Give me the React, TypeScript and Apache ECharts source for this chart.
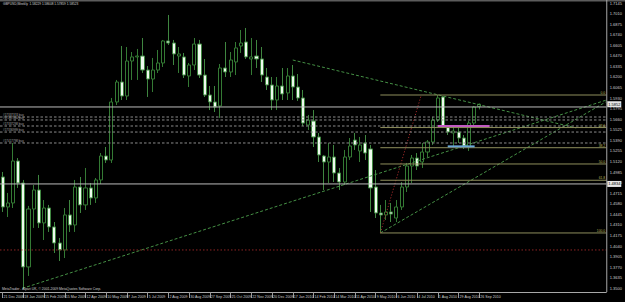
import React, { useEffect, useRef } from "react";
import * as echarts from "echarts";

const titleText = "GBPUSD,Weekly  1.58229 1.58608 1.57859 1.58523";
const copyrightText = "MetaTrader - Alpari UK, \u00a9 2001-2009 MetaQuotes Software Corp.";

const dateLabels = [
  "21 Dec 2008", "18 Jan 2009", "15 Feb 2009", "15 Mar 2009", "12 Apr 2009", "10 May 2009",
  "7 Jun 2009", "5 Jul 2009", "2 Aug 2009", "30 Aug 2009", "27 Sep 2009", "25 Oct 2009",
  "22 Nov 2009", "20 Dec 2009", "17 Jan 2010", "14 Feb 2010", "14 Mar 2010", "11 Apr 2010",
  "9 May 2010", "6 Jun 2010", "4 Jul 2010", "1 Aug 2010", "29 Aug 2010", "26 Sep 2010",
];

const opens = [
  1.4923, 1.4540, 1.4591, 1.5127, 1.4846, 1.3774, 1.4514, 1.4757, 1.4336, 1.4527,
  1.4285, 1.4080, 1.3991, 1.4438, 1.4310, 1.4795, 1.4566, 1.4783, 1.4655, 1.4885,
  1.5191, 1.5140, 1.5881, 1.6136, 1.5957, 1.6404, 1.6456, 1.6468, 1.6289, 1.6174,
  1.6289, 1.6379, 1.6660, 1.6634, 1.6468, 1.6456, 1.6213, 1.6353, 1.6621, 1.6225,
  1.5970, 1.5881, 1.5830, 1.6315, 1.6264, 1.6392, 1.6596, 1.6647, 1.6430, 1.6468,
  1.6430, 1.6200, 1.6098, 1.5906, 1.6085, 1.5996, 1.6213, 1.6072, 1.5932, 1.5587,
  1.5638, 1.5434, 1.5191, 1.5114, 1.5178, 1.4974, 1.4859, 1.5178, 1.5395, 1.5255,
  1.5357, 1.5281, 1.4795, 1.4463, 1.4438, 1.4476, 1.4399, 1.4540, 1.4795, 1.5063,
  1.5165, 1.5114, 1.5242, 1.5370, 1.5651, 1.5945, 1.5561, 1.5485, 1.5497, 1.5421,
  1.5306, 1.5612, 1.5823,
];
const highs = [
  1.4987, 1.4719, 1.5357, 1.5165, 1.4885, 1.4553, 1.4821, 1.4949, 1.4629, 1.4566,
  1.4348, 1.4144, 1.4527, 1.4629, 1.4885, 1.4923, 1.5038, 1.4846, 1.4910, 1.5229,
  1.5306, 1.5932, 1.6162, 1.6596, 1.6583, 1.6519, 1.6558, 1.6698, 1.6340, 1.6443,
  1.6545, 1.6673, 1.6992, 1.6673, 1.6583, 1.6507, 1.6379, 1.6698, 1.6673, 1.6430,
  1.6085, 1.6085, 1.6366, 1.6647, 1.6519, 1.6647, 1.6800, 1.6826, 1.6698, 1.6673,
  1.6583, 1.6315, 1.6200, 1.6200, 1.6315, 1.6315, 1.6353, 1.6238, 1.6034, 1.5715,
  1.5778, 1.5485, 1.5204, 1.5357, 1.5332, 1.5038, 1.5268, 1.5421, 1.5485, 1.5434,
  1.5459, 1.5332, 1.5012, 1.4566, 1.4629, 1.4591, 1.4629, 1.4859, 1.5102, 1.5204,
  1.5229, 1.5357, 1.5395, 1.5689, 1.5970, 1.5957, 1.5587, 1.5574, 1.5549, 1.5459,
  1.5638, 1.5830, 1.5861,
];
const lows = [
  1.4476, 1.4412, 1.4527, 1.4783, 1.3506, 1.3659, 1.4272, 1.4272, 1.4118, 1.4221,
  1.3952, 1.3850, 1.3888, 1.4221, 1.4221, 1.4463, 1.4502, 1.4566, 1.4591, 1.4834,
  1.5102, 1.5102, 1.5842, 1.5906, 1.5906, 1.6162, 1.6162, 1.6251, 1.5945, 1.6008,
  1.6251, 1.6328, 1.6609, 1.6353, 1.6251, 1.6187, 1.6072, 1.6289, 1.6187, 1.5945,
  1.5778, 1.5753, 1.5677, 1.6200, 1.6200, 1.6225, 1.6507, 1.6430, 1.6225, 1.6315,
  1.6136, 1.6034, 1.5778, 1.5778, 1.5906, 1.5906, 1.5906, 1.5894, 1.5574, 1.5523,
  1.5306, 1.5114, 1.4757, 1.4846, 1.4859, 1.4757, 1.4821, 1.5140, 1.5268, 1.5114,
  1.5140, 1.4476, 1.4399, 1.4208, 1.4374, 1.4348, 1.4348, 1.4502, 1.4731, 1.4846,
  1.5012, 1.5038, 1.5178, 1.5332, 1.5625, 1.5549, 1.5459, 1.5319, 1.5357, 1.5281,
  1.5255, 1.5587, 1.5786,
];
const closes = [
  1.4540, 1.4591, 1.5127, 1.4846, 1.3774, 1.4514, 1.4757, 1.4336, 1.4527, 1.4285,
  1.4080, 1.3991, 1.4438, 1.4310, 1.4795, 1.4566, 1.4783, 1.4655, 1.4885, 1.5191,
  1.5140, 1.5881, 1.6136, 1.5957, 1.6404, 1.6456, 1.6468, 1.6289, 1.6174, 1.6289,
  1.6379, 1.6660, 1.6634, 1.6494, 1.6494, 1.6225, 1.6353, 1.6621, 1.6225, 1.5970,
  1.5881, 1.5817, 1.6315, 1.6264, 1.6417, 1.6571, 1.6634, 1.6456, 1.6456, 1.6430,
  1.6225, 1.6098, 1.5906, 1.6085, 1.5983, 1.6213, 1.6072, 1.5932, 1.5612, 1.5651,
  1.5434, 1.5204, 1.5114, 1.5178, 1.4974, 1.4859, 1.5178, 1.5319, 1.5332, 1.5332,
  1.5229, 1.4783, 1.4463, 1.4438, 1.4476, 1.4450, 1.4540, 1.4795, 1.5063, 1.5165,
  1.5063, 1.5242, 1.5370, 1.5651, 1.5932, 1.5561, 1.5497, 1.5510, 1.5421, 1.5319,
  1.5612, 1.5817, 1.5852,
];

const SLOTS = 117;
const Y_MIN = 1.35;
const Y_MAX = 1.7145;
const Y_STEP = 0.0135;

const orderPrices = [1.5689, 1.5651, 1.5574, 1.5497, 1.5357];
const orderLabels = ["#17337374 buy", "#17337346 buy", "#17337298 buy", "#17336999 buy", "#17417798 buy"];
const solidLevels = [1.5817, 1.4834];
const redDotLevel = 1.3991;
const axisBoxPrices = [1.5852, 1.4834];

const fibHigh = 1.597;
const fibLow = 1.4208;
const fibLevels = [0, 23.6, 38.2, 50, 61.8, 100];
const fibStartWeek = 72.9;

const trendA = [[3.8, 1.35], [116.5, 1.5905]];
const trendB = [[56, 1.6417], [110.7, 1.5549]];
const trendC = [[72.9, 1.4208], [116.4, 1.5881]];
const fibDiagonal = [[72.9, 1.4208], [80.8, 1.597]];
const magentaSeg = [[84, 1.5574], [94, 1.5574]];
const blueSeg = [[85.9, 1.5314], [91.1, 1.5314]];

const FONT = "Liberation Sans";

export default function App() {
  const ref = useRef<HTMLDivElement>(null);

  useEffect(() => {
    if (!ref.current) return;
    const chart = echarts.init(ref.current, undefined, { renderer: "svg", width: 625, height: 302 });

    const categories = Array.from({ length: SLOTS }, (_, i) => String(i));
    const candleData = opens.map((o, i) => [o, closes[i], lows[i], highs[i]]);
    const X0 = -0.5;
    const X1 = SLOTS - 0.5;

    const seg = (data: number[][], color: string, type: any, width = 1, z = 3) => ({
      type: "line",
      xAxisIndex: 1,
      yAxisIndex: 0,
      data,
      symbol: "none",
      showSymbol: false,
      silent: true,
      clip: false,
      lineStyle: { color, type, width },
      z,
    });

    const fibPrice = (lv: number) => fibHigh - (fibHigh - fibLow) * lv / 100;

    const series: any[] = [
      {
        type: "candlestick",
        xAxisIndex: 0,
        yAxisIndex: 0,
        data: candleData,
        barWidth: 3.6,
        itemStyle: {
          color: "#000000",
          color0: "#eefaee",
          borderColor: "#347a34",
          borderColor0: "#3f8640",
          borderWidth: 1,
        },
        z: 2,
      },
      ...solidLevels.map((p) => seg([[X0, p], [X1, p]], "#bcbcbc", "solid", 1, 4)),
      ...orderPrices.map((p) => seg([[X0, p], [X1, p]], "#8c8c8c", [2.5, 2], 1, 4)),
      seg([[X0, redDotLevel], [X1, redDotLevel]], "#8e2424", [1.5, 2], 1, 4),
      ...fibLevels.map((lv) => seg([[fibStartWeek, fibPrice(lv)], [X1, fibPrice(lv)]], "#8e8e5c", "solid", 1, 4)),
      seg(trendA, "#459045", [3, 2]),
      seg(trendB, "#459045", [3, 2]),
      seg(trendC, "#459045", [3, 2]),
      seg(fibDiagonal, "#a02a2a", [1.2, 1.8]),
      seg(magentaSeg, "#c25ac2", "solid", 2, 5),
      seg(blueSeg, "#6aa6d8", "solid", 2, 5),
    ];

    const option: any = {
      animation: false,
      backgroundColor: "#000000",
      textStyle: { fontFamily: FONT },
      grid: { left: 0, top: 3, width: 610.4, height: 285.4, containLabel: false, show: false },
      xAxis: [
        {
          type: "category",
          data: categories,
          boundaryGap: true,
          offset: 3.6,
          axisLine: { show: true, lineStyle: { color: "#a8a8a8", width: 1 } },
          axisTick: {
            show: true,
            alignWithLabel: true,
            length: 6,
            interval: (i: number) => i % 4 === 0 && i <= 92,
            lineStyle: { color: "#9a9a9a" },
          },
          axisLabel: {
            show: true,
            interval: (i: number) => i % 4 === 0 && i <= 92,
            formatter: (_v: string, i: number) => (i % 4 === 0 && i <= 92 ? dateLabels[i / 4] : ""),
            align: "left",
            margin: 3,
            padding: [0, 0, 0, 1],
            fontSize: 3.6,
            color: "#cfcfcf",
            fontFamily: FONT,
          },
          splitLine: { show: false },
        },
        {
          type: "value",
          min: X0,
          max: X1,
          show: false,
          axisLine: { show: false },
          axisTick: { show: false },
          axisLabel: { show: false },
          splitLine: { show: false },
        },
      ],
      yAxis: [
        {
          type: "value",
          position: "right",
          min: Y_MIN,
          max: Y_MAX,
          interval: Y_STEP,
          axisLine: { show: false },
          axisTick: { show: false },
          splitLine: { show: false },
          axisLabel: {
            show: true,
            margin: 3.5,
            fontSize: 4,
            color: "#cfcfcf",
            fontFamily: FONT,
            showMinLabel: true,
            showMaxLabel: true,
            formatter: (v: number) => v.toFixed(4),
          },
        },
      ],
      series,
    };

    chart.setOption(option);

    const py = (v: number) => chart.convertToPixel({ yAxisIndex: 0 } as any, v) as unknown as number;
    const px = (v: number) => chart.convertToPixel({ xAxisIndex: 1 } as any, v) as unknown as number;
    const rightEdge = px(X1);

    const graphics: any[] = [
      { type: "rect", shape: { x: 0, y: 0, width: 625, height: 1.6 }, style: { fill: "#5c5c5c" }, silent: true, z: 10 },
      { type: "line", shape: { x1: rightEdge + 0.5, y1: 0, x2: rightEdge + 0.5, y2: 292 }, style: { stroke: "#a8a8a8", lineWidth: 1 }, silent: true, z: 10 },
      {
        type: "text", x: 3, y: 4.2, silent: true, z: 10,
        style: { text: titleText, fill: "#d6d6d6", fontSize: 3.2, fontFamily: FONT, verticalAlign: "middle" },
      },
      {
        type: "text", x: 2, y: 288.5, silent: true, z: 10,
        style: { text: copyrightText, fill: "#cfcfcf", fontSize: 3.4, fontFamily: FONT, verticalAlign: "middle" },
      },
    ];

    orderPrices.forEach((p, i) => {
      graphics.push({
        type: "text", x: 3, y: py(p) - 0.6, silent: true, z: 10,
        style: { text: orderLabels[i], fill: "#a8a8a8", fontSize: 3, fontFamily: FONT, verticalAlign: "bottom" },
      });
    });

    fibLevels.forEach((lv) => {
      graphics.push({
        type: "text", x: rightEdge - 1, y: py(fibPrice(lv)) - 0.5, silent: true, z: 10,
        style: { text: lv.toFixed(1), fill: "#b8b456", fontSize: 3.4, fontFamily: FONT, align: "right", verticalAlign: "bottom" },
      });
    });

    axisBoxPrices.forEach((p) => {
      const y = py(p);
      graphics.push({
        type: "rect", shape: { x: rightEdge + 1, y: y - 3, width: 14, height: 6 }, silent: true, z: 11,
        style: { fill: "#e6e6e6" },
      });
      graphics.push({
        type: "text", x: rightEdge + 2, y, silent: true, z: 12,
        style: { text: p.toFixed(4), fill: "#000000", fontSize: 4, fontFamily: FONT, verticalAlign: "middle" },
      });
    });

    chart.setOption({ graphic: graphics });

    return () => {
      chart.dispose();
    };
  }, []);

  return (
    <div
      ref={ref}
      style={{ position: "fixed", left: 0, top: 0, width: 625, height: 302, background: "#000" }}
    />
  );
}
